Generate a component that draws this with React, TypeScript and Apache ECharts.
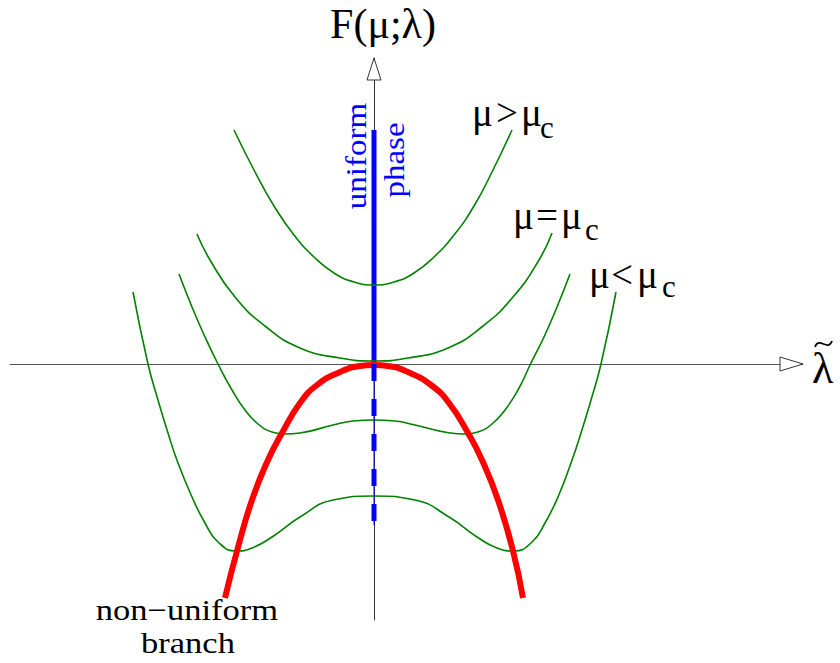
import React, { useEffect, useRef } from "react";
import * as echarts from "echarts";

// Axis extents (data units: tilde-lambda horizontally, F vertically)
const X_MIN = -3.64;
const X_MAX = 4.29;
const Y_MIN = -2.56;
const Y_MAX = 3.06;

// Free-energy curves
const curveAbove = [
  [-1.4, 2.34], [-1.2, 1.94], [-1.0, 1.58], [-0.8, 1.29], [-0.6, 1.07], [-0.4, 0.91], [-0.2, 0.82], [0, 0.79],
  [0.2, 0.82], [0.4, 0.91], [0.6, 1.07], [0.8, 1.29], [1.0, 1.58], [1.19, 1.94], [1.38, 2.34],
];
const curveCritical = [
  [-1.77, 1.3], [-1.64, 1.04], [-1.39, 0.67], [-1.09, 0.38], [-0.74, 0.16], [-0.34, 0.06], [0, 0.03],
  [0.34, 0.06], [0.74, 0.16], [1.09, 0.38], [1.39, 0.67], [1.65, 1.04], [1.78, 1.31],
];
const curveBelow1 = [
  [-1.95, 0.9], [-1.82, 0.57], [-1.69, 0.27], [-1.56, 0.0], [-1.42, -0.26], [-1.29, -0.46], [-1.16, -0.6],
  [-1.02, -0.68], [-0.89, -0.7], [-0.74, -0.69], [-0.41, -0.61], [-0.21, -0.57], [0, -0.56],
  [0.21, -0.57], [0.41, -0.61], [0.76, -0.69], [0.91, -0.7], [1.04, -0.68], [1.18, -0.6], [1.31, -0.46],
  [1.44, -0.26], [1.57, 0.01], [1.7, 0.27], [1.83, 0.57], [1.96, 0.9],
];
const curveBelow2 = [
  [-2.41, 0.72], [-2.26, 0.0], [-2.16, -0.36], [-2.06, -0.69], [-1.96, -0.99], [-1.82, -1.33], [-1.69, -1.59],
  [-1.56, -1.78], [-1.38, -1.87], [-1.22, -1.84], [-1.02, -1.73], [-0.74, -1.53], [-0.41, -1.36], [0, -1.32],
  [0.41, -1.36], [0.75, -1.53], [1.03, -1.73], [1.23, -1.84], [1.4, -1.87], [1.58, -1.78], [1.71, -1.59],
  [1.84, -1.33], [1.97, -0.99], [2.07, -0.69], [2.17, -0.36], [2.27, 0.0], [2.42, 0.72],
];
const nonUniformBranch = [
  [-1.49, -2.34], [-1.37, -1.87], [-1.22, -1.36], [-1.06, -0.96], [-0.92, -0.69], [-0.74, -0.39],
  [-0.57, -0.21], [-0.34, -0.08], [-0.14, -0.02], [0, -0.01], [0.14, -0.02], [0.34, -0.08], [0.57, -0.21],
  [0.75, -0.39], [0.94, -0.69], [1.08, -0.96], [1.24, -1.36], [1.39, -1.87], [1.49, -2.34],
];
const uniformStable = [[0, 2.34], [0, 0]];
const uniformUnstable = [[0, 0], [0, -1.61]];

// Texts
const yAxisTitle = "F(μ;λ)";
const xAxisSymbol = "λ";
const MU = "μ";
const relations = [">", "=", "<"];
const subC = "c";
const uniformWord = "uniform";
const phaseWord = "phase";
const branchLine1 = "non−uniform";
const branchLine2 = "branch";

const SERIF = '"Liberation Serif", "Times New Roman", serif';
const GREEN = "#008000";

export default function App() {
  const ref = useRef<HTMLDivElement>(null);
  useEffect(() => {
    if (!ref.current) return;
    const chart = echarts.init(ref.current, null, { renderer: "svg" });
    const greenLine = (data: number[][]) => ({
      type: "line",
      data,
      smooth: true,
      showSymbol: false,
      silent: true,
      z: 3,
      lineStyle: { color: GREEN, width: 1.6 },
    });
    chart.setOption({
      animation: false,
      grid: { left: 10, right: 37, top: 58, bottom: 43 },
      xAxis: {
        type: "value",
        min: X_MIN,
        max: X_MAX,
        axisLine: { show: true, onZero: true, lineStyle: { color: "#555", width: 1 } },
        axisTick: { show: false },
        axisLabel: { show: false },
        splitLine: { show: false },
      },
      yAxis: {
        type: "value",
        min: Y_MIN,
        max: Y_MAX,
        axisLine: { show: true, onZero: true, lineStyle: { color: "#333", width: 1 } },
        axisTick: { show: false },
        axisLabel: { show: false },
        splitLine: { show: false },
      },
      series: [
        {
          type: "line",
          data: uniformStable,
          showSymbol: false,
          silent: true,
          z: 2,
          lineStyle: { color: "#0000ff", width: 5, cap: "butt" },
        },
        greenLine(curveAbove),
        greenLine(curveCritical),
        greenLine(curveBelow1),
        greenLine(curveBelow2),
        {
          type: "line",
          data: nonUniformBranch,
          smooth: true,
          showSymbol: false,
          silent: true,
          z: 4,
          lineStyle: { color: "#ff0000", width: 6 },
        },
        {
          type: "line",
          data: uniformUnstable,
          showSymbol: false,
          silent: true,
          z: 5,
          lineStyle: { color: "#0000ff", width: 1 },
        },
        {
          type: "line",
          data: uniformUnstable,
          showSymbol: false,
          silent: true,
          z: 6,
          lineStyle: { color: "#0000ff", width: 5, type: [17, 18], cap: "butt" },
        },
      ],
    });

    const right = chart.convertToPixel({ gridIndex: 0 }, [X_MAX, 0]) as number[];
    const top = chart.convertToPixel({ gridIndex: 0 }, [0, Y_MAX]) as number[];

    const txt = (
      text: string,
      x: number,
      y: number,
      size: number,
      align: string,
      fill = "#000",
      extra: any = {}
    ) => ({
      type: "text",
      x,
      y,
      z: 100,
      silent: true,
      ...extra,
      style: {
        text,
        font: `${size}px ${SERIF}`,
        fill,
        textAlign: align,
        textVerticalAlign: "middle",
        align,
        verticalAlign: "middle",
      },
    });

    // mu-relation labels: glyph left edges per label
    const muLabel = (rel: string, xs: number[], yMain: number, ySub: number) => [
      txt(MU, xs[0], yMain, 39, "left"),
      txt(rel, xs[1], yMain, 39, "left"),
      txt(MU, xs[2], yMain, 39, "left"),
      txt(subC, xs[3], ySub, 31, "left"),
    ];

    chart.setOption({
      graphic: [
        {
          type: "polygon",
          z: 50,
          silent: true,
          shape: {
            points: [
              [right[0] - 23, right[1] - 7],
              [right[0] - 23, right[1] + 7],
              [right[0], right[1]],
            ],
          },
          style: { fill: "#fff", stroke: "#333", lineWidth: 1 },
        },
        {
          type: "polygon",
          z: 50,
          silent: true,
          shape: {
            points: [
              [top[0] - 7, top[1] + 22],
              [top[0] + 7, top[1] + 22],
              [top[0], top[1]],
            ],
          },
          style: { fill: "#fff", stroke: "#333", lineWidth: 1 },
        },
        // tilde accent over lambda
        {
          type: "bezierCurve",
          z: 100,
          silent: true,
          shape: { x1: 815, y1: 347, cpx1: 819, cpy1: 336, cpx2: 828, cpy2: 352, x2: 832, y2: 341 },
          style: { stroke: "#000", lineWidth: 1.8, fill: null },
        },
        txt(yAxisTitle, 383, 24, 42, "center"),
        txt(xAxisSymbol, 812, 368, 44, "left"),
        ...muLabel(relations[0], [472, 496, 521, 540], 112, 127),
        ...muLabel(relations[1], [513, 536, 561, 585], 215, 229),
        ...muLabel(relations[2], [589, 611, 637, 662], 274, 286),
        txt(uniformWord, 356, 156, 33, "center", "#0000ff", { rotation: Math.PI / 2, scaleY: 0.88 }),
        txt(phaseWord, 394, 160, 33, "center", "#0000ff", { rotation: Math.PI / 2, scaleY: 0.88 }),
        txt(branchLine1, 187, 610, 30, "center", "#000", { scaleX: 1.15 }),
        txt(branchLine2, 188, 643, 30, "center", "#000", { scaleX: 1.15 }),
      ],
    });

    return () => chart.dispose();
  }, []);
  return (
    <div
      ref={ref}
      style={{ position: "fixed", left: 0, top: 0, width: 840, height: 663, background: "#fff" }}
    />
  );
}
